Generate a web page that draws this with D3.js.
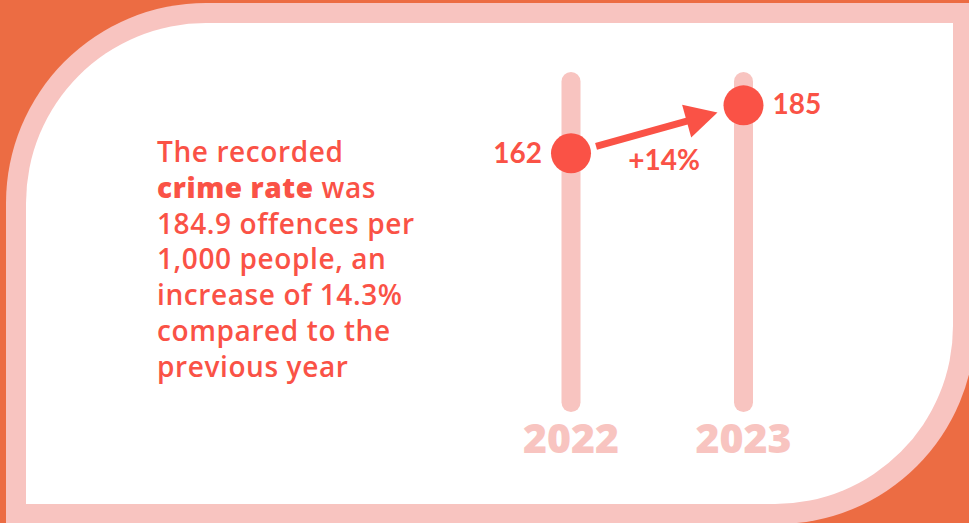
<!DOCTYPE html>
<html>
<head>
<meta charset="utf-8">
<script src="https://cdn.jsdelivr.net/npm/d3@7"></script>
<style>
  html, body { margin: 0; padding: 0; background: #EC6C43; }
  svg { display: block; }
</style>
</head>
<body>
<svg id="chart" width="969" height="523"></svg>
<script>
// ---- data ----
const years = ["2022", "2023"];
const values = [162, 185];
const valueLabels = ["162", "185"];
const changeLabel = "+14%";
const trackDomain = [38, 201];
const textLines = [
  [{t: "The recorded", b: false}],
  [{t: "crime rate", b: true}, {t: " was", b: false}],
  [{t: "184.9 offences per", b: false}],
  [{t: "1,000 people, an", b: false}],
  [{t: "increase of 14.3%", b: false}],
  [{t: "compared to the", b: false}],
  [{t: "previous year", b: false}]
];

// ---- styles ----
const ORANGE = "#EC6C43", PINK = "#F8C4C0", RED = "#FA5246", WHITE = "#FFFFFF";
const FONT = "Lato, 'Open Sans', sans-serif";
const PFONT = "'Open Sans', Lato, sans-serif";

const svg = d3.select("#chart");

// panel frame
svg.append("rect").attr("width", 969).attr("height", 523).attr("fill", ORANGE);
svg.append("path")
  .attr("d", "M206,3 H975 V326 A198,198 0 0 1 777,524 H6 V203 A200,200 0 0 1 206,3 Z")
  .attr("fill", PINK);
svg.append("path")
  .attr("d", "M206,23 H953 V326 A178,178 0 0 1 775,504 H26 V203 A180,180 0 0 1 206,23 Z")
  .attr("fill", WHITE);

// scales
const x = d3.scalePoint().domain(years).range([571, 743.5]);
const y = d3.scaleLinear().domain(trackDomain).range([412, 72]);

const trackW = 19;
const r = 20;

// tracks
svg.selectAll("rect.track").data(years).enter().append("rect")
  .attr("class", "track")
  .attr("x", d => x(d) - trackW / 2)
  .attr("y", y(trackDomain[1]))
  .attr("width", trackW)
  .attr("height", y(trackDomain[0]) - y(trackDomain[1]))
  .attr("rx", trackW / 2)
  .attr("fill", PINK);

// year labels
svg.selectAll("text.year").data(years).enter().append("text")
  .attr("class", "year")
  .attr("x", d => x(d))
  .attr("y", 453)
  .attr("text-anchor", "middle")
  .attr("font-family", PFONT)
  .attr("font-weight", 800)
  .attr("font-size", 41)
  .attr("fill", PINK)
  .text(d => d);

// arrow
const p0 = [x(years[0]), y(values[0])];
const p1 = [x(years[1]), y(values[1])];
const dx = p1[0] - p0[0], dy = p1[1] - p0[1];
const len = Math.hypot(dx, dy);
const ux = dx / len, uy = dy / len;
const start = [p0[0] + ux * (r + 6), p0[1] + uy * (r + 6)];
const tip = [p1[0] - ux * (r + 7), p1[1] - uy * (r + 7)];
const headLen = 32, headHalf = 17;
const base = [tip[0] - ux * headLen, tip[1] - uy * headLen];
svg.append("line")
  .attr("x1", start[0]).attr("y1", start[1])
  .attr("x2", base[0] + ux * 2).attr("y2", base[1] + uy * 2)
  .attr("stroke", RED).attr("stroke-width", 7);
svg.append("path")
  .attr("d", `M${tip[0]},${tip[1]} L${base[0] - uy * headHalf},${base[1] + ux * headHalf} L${base[0] + uy * headHalf},${base[1] - ux * headHalf} Z`)
  .attr("fill", RED);

// dots
svg.selectAll("circle.dot").data(values).enter().append("circle")
  .attr("class", "dot")
  .attr("cx", (d, i) => x(years[i]))
  .attr("cy", d => y(d))
  .attr("r", r)
  .attr("fill", RED);

// value labels
svg.append("text")
  .attr("x", x(years[0]) - r - 9).attr("y", y(values[0]) + 10)
  .attr("text-anchor", "end")
  .attr("font-family", FONT).attr("font-weight", 700).attr("font-size", 28)
  .attr("fill", RED).text(valueLabels[0]);
svg.append("text")
  .attr("x", x(years[1]) + r + 9).attr("y", y(values[1]) + 9)
  .attr("text-anchor", "start")
  .attr("font-family", FONT).attr("font-weight", 700).attr("font-size", 28)
  .attr("fill", RED).text(valueLabels[1]);

// change label
svg.append("text")
  .attr("x", 664).attr("y", 170)
  .attr("text-anchor", "middle")
  .attr("font-family", FONT).attr("font-weight", 700).attr("font-size", 28)
  .attr("fill", RED).text(changeLabel);

// paragraph
const para = svg.append("text")
  .attr("font-family", PFONT).attr("font-size", 28)
  .attr("letter-spacing", 0.6).attr("fill", RED);
textLines.forEach((line, i) => {
  line.forEach((seg, j) => {
    const ts = para.append("tspan")
      .attr("font-weight", seg.b ? 800 : 600)
      .text(seg.t);
    if (j === 0) ts.attr("x", 157).attr("y", 162 + i * 35.8);
  });
});
</script>
</body>
</html>
